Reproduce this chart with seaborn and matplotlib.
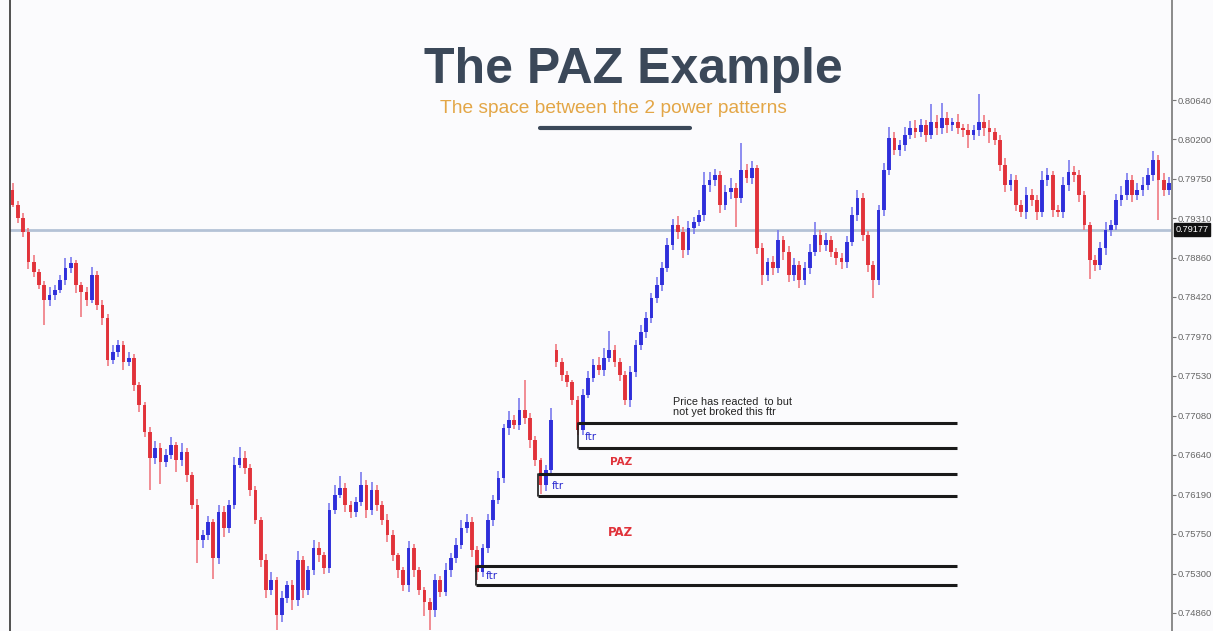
import matplotlib
matplotlib.use("Agg")
import matplotlib.pyplot as plt
from matplotlib.lines import Line2D
from matplotlib.ticker import FixedLocator, FuncFormatter
import numpy as np
import pandas as pd
import seaborn as sns

# ---- price data (one candle per entry) ----
first_open = 0.7963
closes = [
    0.7946, 0.7931, 0.7915, 0.7881, 0.7870, 0.7856, 0.7839, 0.7844, 0.7850, 0.7861,
    0.7875, 0.7880, 0.7856, 0.7848, 0.7839, 0.7867, 0.7833, 0.7818, 0.7771, 0.7780,
    0.7788, 0.7769, 0.7773, 0.7743, 0.7720, 0.7690, 0.7661, 0.7672, 0.7656, 0.7664,
    0.7675, 0.7658, 0.7667, 0.7641, 0.7608, 0.7568, 0.7574, 0.7588, 0.7548, 0.7600,
    0.7582, 0.7608, 0.7653, 0.7661, 0.7649, 0.7625, 0.7591, 0.7546, 0.7512, 0.7523,
    0.7484, 0.7503, 0.7517, 0.7501, 0.7546, 0.7512, 0.7534, 0.7559, 0.7551, 0.7537,
    0.7602, 0.7619, 0.7627, 0.7608, 0.7600, 0.7611, 0.7630, 0.7602, 0.7625, 0.7608,
    0.7591, 0.7574, 0.7551, 0.7534, 0.7517, 0.7559, 0.7534, 0.7512, 0.7498, 0.7489,
    0.7523, 0.7510, 0.7534, 0.7548, 0.7563, 0.7582, 0.7588, 0.7557, 0.7532, 0.7559,
    0.7591, 0.7613, 0.7638, 0.7694, 0.7703, 0.7698, 0.7715, 0.7706, 0.7681, 0.7658,
    0.7630, 0.7647, 0.7703, 0.7769, 0.7754, 0.7746, 0.7726, 0.7692, 0.7732, 0.7751,
    0.7765, 0.7760, 0.7773, 0.7782, 0.7769, 0.7754, 0.7726, 0.7757, 0.7788, 0.7803,
    0.7818, 0.7841, 0.7856, 0.7875, 0.7901, 0.7923, 0.7915, 0.7895, 0.7920, 0.7927,
    0.7934, 0.7968, 0.7974, 0.7979, 0.7946, 0.7960, 0.7965, 0.7954, 0.7985, 0.7976,
    0.7987, 0.7897, 0.7867, 0.7881, 0.7875, 0.7906, 0.7893, 0.7867, 0.7878, 0.7861,
    0.7875, 0.7893, 0.7912, 0.7901, 0.7906, 0.7893, 0.7886, 0.7881, 0.7904, 0.7934,
    0.7954, 0.7912, 0.7878, 0.7861, 0.7940, 0.7985, 0.8021, 0.8008, 0.8013, 0.8025,
    0.8032, 0.8028, 0.8036, 0.8025, 0.8039, 0.8032, 0.8044, 0.8036, 0.8039, 0.8032,
    0.8030, 0.8025, 0.8030, 0.8039, 0.8032, 0.8028, 0.8019, 0.7991, 0.7968, 0.7974,
    0.7946, 0.7938, 0.7957, 0.7951, 0.7938, 0.7974, 0.7979, 0.7940, 0.7938, 0.7968,
    0.7983, 0.7979, 0.7957, 0.7923, 0.7884, 0.7878, 0.7897, 0.7918, 0.7923, 0.7951,
    0.7957, 0.7974, 0.7957, 0.7963, 0.7968, 0.7979, 0.7996, 0.7974, 0.7963, 0.7970,
]
# wick lengths beyond the body, in pips
upper_wick_pips = [
    7, 4, 6, 5, 8, 3, 4, 9, 5, 6,
    11, 7, 4, 3, 5, 9, 4, 6, 5, 8,
    6, 4, 7, 5, 3, 4, 6, 8, 5, 7,
    9, 4, 10, 5, 4, 6, 5, 7, 4, 8,
    6, 5, 9, 12, 7, 5, 4, 3, 6, 9,
    4, 8, 5, 6, 10, 4, 5, 9, 7, 4,
    8, 11, 13, 5, 4, 6, 15, 6, 9, 5,
    4, 6, 5, 3, 4, 8, 5, 4, 3, 5,
    7, 5, 8, 6, 7, 9, 10, 6, 4, 5,
    7, 6, 8, 5, 11, 6, 13, 34, 5, 4,
    3, 6, 14, 7, 4, 5, 3, 4, 6, 8,
    7, 9, 12, 22, 6, 4, 5, 7, 6, 8,
    7, 5, 9, 6, 8, 7, 10, 6, 8, 5,
    6, 15, 9, 7, 5, 8, 11, 6, 30, 7,
    8, 4, 6, 5, 7, 11, 5, 6, 8, 5,
    7, 9, 14, 6, 8, 5, 4, 6, 7, 9,
    9, 5, 4, 5, 6, 8, 13, 7, 6, 9,
    8, 10, 7, 6, 20, 8, 17, 6, 5, 9,
    5, 7, 6, 32, 8, 9, 5, 6, 8, 7,
    6, 5, 9, 7, 6, 10, 8, 5, 6, 9,
    13, 7, 6, 5, 4, 5, 7, 8, 6, 7,
    10, 8, 6, 7, 9, 8, 10, 6, 8, 7,
]
lower_wick_pips = [
    3, 6, 5, 8, 6, 5, 28, 7, 5, 4,
    5, 6, 9, 28, 7, 4, 6, 8, 7, 5,
    6, 9, 5, 7, 8, 6, 36, 7, 25, 6,
    5, 13, 6, 8, 5, 26, 9, 6, 24, 7,
    10, 6, 5, 4, 6, 7, 5, 8, 9, 6,
    17, 8, 6, 12, 7, 9, 6, 5, 8, 7,
    6, 5, 4, 8, 7, 6, 5, 9, 6, 7,
    6, 8, 7, 9, 6, 7, 8, 6, 15, 22,
    8, 6, 5, 7, 6, 5, 6, 8, 9, 6,
    5, 7, 4, 6, 8, 5, 6, 7, 9, 6,
    10, 7, 5, 6, 7, 5, 6, 5, 6, 4,
    5, 6, 7, 4, 6, 7, 6, 8, 5, 6,
    7, 5, 6, 7, 5, 6, 8, 9, 6, 7,
    5, 6, 8, 7, 9, 6, 7, 33, 6, 5,
    7, 6, 11, 7, 8, 6, 9, 8, 7, 9,
    6, 7, 5, 8, 7, 6, 8, 7, 6, 5,
    6, 7, 8, 20, 6, 7, 5, 6, 7, 6,
    5, 7, 6, 8, 5, 7, 6, 9, 7, 6,
    8, 15, 6, 7, 9, 12, 6, 7, 8, 6,
    7, 6, 8, 7, 9, 6, 7, 8, 6, 7,
    6, 7, 8, 6, 22, 7, 6, 8, 7, 6,
    7, 6, 8, 6, 7, 5, 6, 45, 7, 6,
]
# session gap: candle index -> opening price
gap_opens = {103: 0.7782}

level_price = 0.79177
price_ticks = [0.80640, 0.80200, 0.79750, 0.79310, 0.78860, 0.78420, 0.77970,
               0.77530, 0.77080, 0.76640, 0.76190, 0.75750, 0.75300, 0.74860]

# flip-to-reversal (ftr) zones: first bar, zone top, zone bottom
ftr_start_bar = [87.8, 99.5, 107.1]
ftr_top = [0.7539, 0.7643, 0.7700]
ftr_bottom = [0.7517, 0.7618, 0.7672]
ftr_end_bar = 178.9

title = "The PAZ Example"
subtitle = "The space between the 2 power patterns"
note = "Price has reacted  to but\nnot yet broked this ftr"

PIP = 1e-4

# ---- build OHLC table ----
opens = [first_open] + closes[:-1]
for k, v in gap_opens.items():
    opens[k] = v
df = pd.DataFrame({"open": opens, "close": closes,
                   "uw": upper_wick_pips, "lw": lower_wick_pips})
df["bar"] = np.arange(len(df))
df["high"] = df[["open", "close"]].max(axis=1) + df["uw"] * PIP
df["low"] = df[["open", "close"]].min(axis=1) - df["lw"] * PIP
df["bull"] = df["close"] >= df["open"]

BLUE = "#2626d9"
RED = "#e02a32"
BG = "#fbfbfd"

sns.set_theme(style="white", rc={"axes.facecolor": BG, "figure.facecolor": BG})
plt.rcParams["font.family"] = ["Liberation Sans", "DejaVu Sans"]

W, H = 1213, 631
fig = plt.figure(figsize=(W / 100, H / 100), dpi=100)
ax = fig.add_axes([10 / W, 0, 1162 / W, 1])

# current level line
sns.lineplot(x=[-1, len(df) + 1], y=[level_price, level_price], ax=ax,
             color="#b4c2d6", lw=2, zorder=1)

body_bottom = df[["open", "close"]].min(axis=1)
body_h = (df["close"] - df["open"]).abs().clip(lower=1.2 * PIP)
for is_bull, col, wick_col in [(True, BLUE, "#7a7aee"), (False, RED, "#f07a82")]:
    sel = df["bull"] == is_bull
    # wicks (high-low range)
    ax.vlines(df.loc[sel, "bar"], df.loc[sel, "low"], df.loc[sel, "high"],
              color=wick_col, lw=1.2, zorder=2)
    # bodies (open-close range)
    ax.bar(df.loc[sel, "bar"], body_h[sel], bottom=body_bottom[sel], width=0.7,
           color=col, linewidth=0, alpha=0.92, zorder=3)

# ftr zones
for s, t, b in zip(ftr_start_bar, ftr_top, ftr_bottom):
    ax.plot([s, ftr_end_bar], [t, t], color="#1a1a1a", lw=2.2, zorder=4, solid_capstyle="butt")
    ax.plot([s, ftr_end_bar], [b, b], color="#1a1a1a", lw=2.2, zorder=4, solid_capstyle="butt")
    ax.plot([s, s], [b, t], color="#1a1a1a", lw=1.2, zorder=4)

# labels inside zones
ftr_font = dict(color="#2a2ad0", fontsize=7.5, family="DejaVu Sans", ha="left", va="center")
ax.text(108.4, 0.7684, "ftr", **ftr_font)
ax.text(102.2, 0.7629, "ftr", **ftr_font)
ax.text(89.6, 0.7528, "ftr", **ftr_font)
paz_font = dict(color="#e0323a", fontweight="bold", ha="center", va="center",
                family="DejaVu Sans")
ax.text(115.2, 0.7656, "PAZ", fontsize=7.5, **paz_font)
ax.text(115.2, 0.7577, "PAZ", fontsize=8.5, **paz_font)
ax.text(125.1, 0.7707, note, fontsize=7.8, color="#222222", ha="left", va="bottom",
        linespacing=1.0)

# axes limits and right price scale
ax.set_xlim(-0.49, 219.58)
ax.set_ylim(0.74656, 0.81767)
ax.set_xticks([])
ax.yaxis.tick_right()
ax.yaxis.set_major_locator(FixedLocator(price_ticks))
ax.yaxis.set_major_formatter(FuncFormatter(lambda v, p: f"{v:.5f}"))
ax.tick_params(axis="y", direction="out", length=3, width=0.8, colors="#777777",
               labelsize=6.8, pad=1, right=True, left=False)
for lab in ax.get_yticklabels():
    lab.set_color("#666666")
sns.despine(ax=ax, top=True, bottom=True, left=False, right=False)
ax.spines["right"].set_color("#8a8a8a")
ax.spines["right"].set_linewidth(1.4)
ax.spines["left"].set_color("#333333")
ax.spines["left"].set_linewidth(1.2)
ax.grid(False)

# current level tag on the price scale
ax.text(1.003, level_price, "0.79177", transform=ax.get_yaxis_transform(),
        fontsize=6.6, color="white", ha="left", va="center", zorder=6,
        bbox=dict(boxstyle="square,pad=0.2", fc="#111111", ec="#111111"))

# headings
fig.text(633 / W, 1 - 83 / H, title, ha="center", va="baseline", fontsize=36,
         fontweight="bold", color="#3b4859")
fig.text(613 / W, 1 - 113 / H, subtitle, ha="center", va="baseline", fontsize=13.8,
         color="#e3a646")
fig.add_artist(Line2D([540 / W, 690 / W], [1 - 128 / H, 1 - 128 / H],
                      color="#3b4859", lw=3, transform=fig.transFigure))

fig.savefig("out.png", dpi=100, facecolor=BG)
